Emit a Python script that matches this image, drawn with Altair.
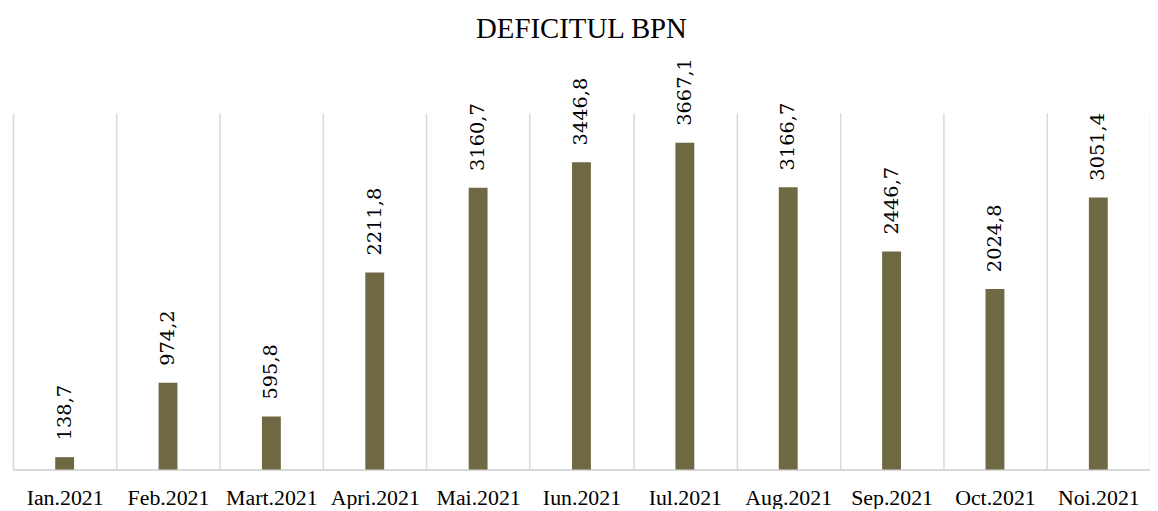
import altair as alt
import pandas as pd

months = ["Ian.2021", "Feb.2021", "Mart.2021", "Apri.2021", "Mai.2021", "Iun.2021",
          "Iul.2021", "Aug.2021", "Sep.2021", "Oct.2021", "Noi.2021"]
deficit = [138.7, 974.2, 595.8, 2211.8, 3160.7, 3446.8, 3667.1, 3166.7, 2446.7, 2024.8, 3051.4]

df = pd.DataFrame({"luna": months, "valoare": deficit})
df["eticheta"] = [f"{v:.1f}".replace(".", ",") for v in deficit]

FONT = "Liberation Serif"

x = alt.X("luna:N", sort=months, title=None,
          scale=alt.Scale(paddingInner=0, paddingOuter=0),
          axis=alt.Axis(labelAngle=0, labelFont=FONT, labelFontSize=22, labelColor="#000000",
                        labelPadding=18, ticks=False, grid=True, tickBand="extent",
                        gridColor="#d9d9d9", gridWidth=1.5,
                        domainColor="#d9d9d9", domainWidth=2))
y = alt.Y("valoare:Q", title=None, scale=alt.Scale(domain=[0, 4000]), axis=None)

bars = alt.Chart(df).mark_bar(width=19, color="#6E6843").encode(x=x, y=y)
labels = alt.Chart(df).mark_text(angle=270, align="left", baseline="middle", dx=17,
                                 font="DejaVu Serif", fontSize=19.5, color="#000000").encode(
    x=x, y=y, text="eticheta:N")

chart = (bars + labels).properties(
    width=1145, height=359,
    title=alt.TitleParams("DEFICITUL BPN", font=FONT, fontSize=29, fontWeight="normal",
                          color="#000000", anchor="middle", baseline="alphabetic", offset=-9),
    autosize=alt.AutoSizeParams(type="none"),
    padding={"left": 5, "top": 104, "right": 0, "bottom": 38},
).configure_view(stroke=None)

chart.save("out.html", embed_options={"renderer": "svg", "actions": False})
